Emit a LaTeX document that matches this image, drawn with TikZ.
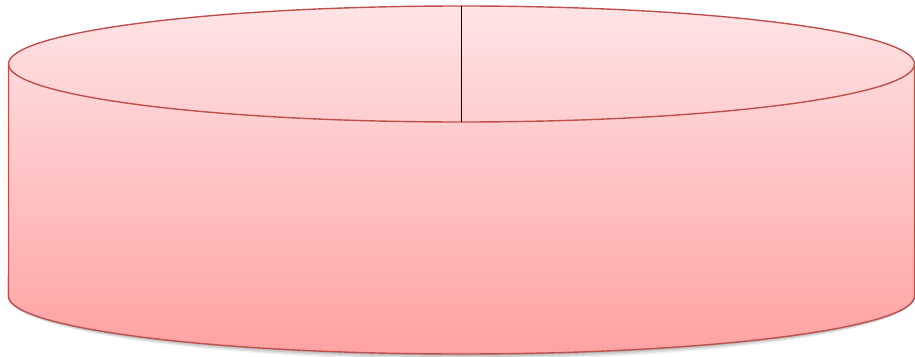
\documentclass[tikz,border=0pt]{standalone}
\usetikzlibrary{calc}
\definecolor{rimred}{HTML}{C0504D}
\definecolor{toppink}{HTML}{FFE4E6}
\definecolor{botpink}{HTML}{FFA2A2}
\tikzset{
  rim/.style={draw=rimred, line width=1.4pt},
}
\begin{document}
\begin{tikzpicture}[x=1pt,y=-1pt]
\useasboundingbox (0,0) rectangle (915,356);
% geometry
\def\cx{461.5}\def\rx{453}\def\ry{58}
\coordinate (tc) at (\cx,64);
\coordinate (bc) at (\cx,296);
% shadow
\foreach \o/\a in {6/0.05,4.5/0.07,3/0.09,1.5/0.1}{
  \fill[black,opacity=\a] ($(bc)+(-\rx-1,-20)$) -- ($(bc)+(-\rx-1,0)$)
    arc[start angle=180,end angle=0,x radius=\rx+1,y radius=\ry+\o] -- ($(bc)+(\rx+1,-20)$) -- cycle;
}
% body
\shade[top color=toppink,bottom color=botpink]
  ($(tc)+(-\rx,0)$) -- ($(bc)+(-\rx,0)$)
  arc[start angle=180,end angle=0,x radius=\rx,y radius=\ry]
  -- ($(tc)+(\rx,0)$)
  arc[start angle=0,end angle=-180,x radius=\rx,y radius=\ry] -- cycle;
\draw[rim]
  ($(tc)+(-\rx,0)$) -- ($(bc)+(-\rx,0)$)
  arc[start angle=180,end angle=0,x radius=\rx,y radius=\ry]
  -- ($(tc)+(\rx,0)$);
\draw[rim] (tc) ellipse[x radius=\rx,y radius=\ry];
% vertical line
\coordinate (ltop) at ($(tc)+(0,-\ry)$);
\coordinate (lbot) at ($(tc)+(0,\ry)$);
\draw[black,line width=1.3pt] (ltop) -- (lbot);
\end{tikzpicture}
\end{document}
